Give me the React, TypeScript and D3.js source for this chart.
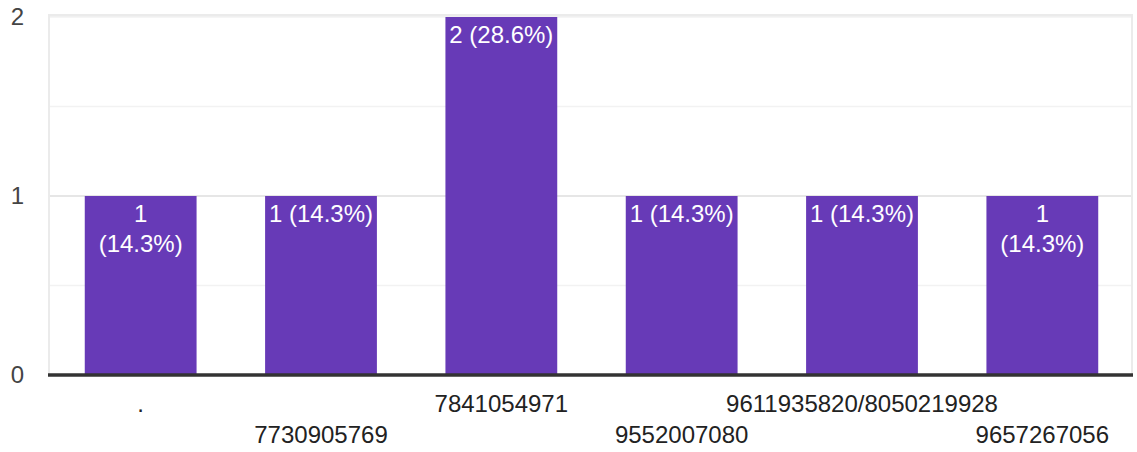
import React from "react";
import * as d3 from "d3";

const categories = [".", "7730905769", "7841054971", "9552007080", "9611935820/8050219928", "9657267056"];
const counts = [1, 1, 2, 1, 1, 1];
const percents = ["14.3%", "14.3%", "28.6%", "14.3%", "14.3%", "14.3%"];
const yTicks = [0, 1, 2];
const gridTicks = [0.5, 1, 1.5, 2];

const W = 1137;
const H = 452;
const FONT = "'Liberation Sans', Arial, sans-serif";

export default function App() {
  const left = 50.5;
  const right = 1132.5;
  const top = 17;
  const bottom = 375;

  const x = d3.scaleBand<string>().domain(categories).range([left, right]).paddingInner(0.38).paddingOuter(0.19);
  const y = d3.scaleLinear().domain([0, 2]).range([bottom, top]);

  return (
    <svg width={W} height={H} style={{ position: "absolute", left: 0, top: 0, background: "#fff" }} fontFamily={FONT}>
      {/* frame */}
      <line x1={48} x2={1133} y1={15.5} y2={15.5} stroke="#ebebeb" strokeWidth={3} />
      <line x1={49} x2={49} y1={14} y2={bottom} stroke="#ebebeb" strokeWidth={2} />
      <line x1={1132} x2={1132} y1={14} y2={bottom} stroke="#ebebeb" strokeWidth={2} />
      {gridTicks.map((t) => (
        <line key={t} x1={50} x2={1131} y1={y(t)} y2={y(t)} stroke={t === 1 ? "#e6e6e6" : "#f2f2f2"} strokeWidth={t === 1 ? 2 : 1.5} />
      ))}
      {yTicks.map((t) => (
        <text key={t} x={24} y={y(t) + 8} textAnchor="end" fontSize={24} fill="#444">
          {t}
        </text>
      ))}
      {categories.map((c, i) => {
        const bx = x(c)!;
        const bw = x.bandwidth();
        const by = y(counts[i]);
        const cx = bx + bw / 2;
        const wrap = i === 0 || i === categories.length - 1;
        const lines = wrap ? [`${counts[i]}`, `(${percents[i]})`] : [`${counts[i]} (${percents[i]})`];
        return (
          <g key={c}>
            <rect x={bx} y={by} width={bw} height={bottom - by} fill="#673ab7" />
            {lines.map((l, j) => (
              <text key={j} x={cx} y={by + 26 + j * 30} textAnchor="middle" fontSize={24} fill="#fff">
                {l}
              </text>
            ))}
            <text x={cx} y={i % 2 === 0 ? 412 : 443} textAnchor="middle" fontSize={24} fill="#222">
              {c}
            </text>
          </g>
        );
      })}
      <line x1={48} x2={1133} y1={bottom} y2={bottom} stroke="#333" strokeWidth={3.5} />
    </svg>
  );
}
